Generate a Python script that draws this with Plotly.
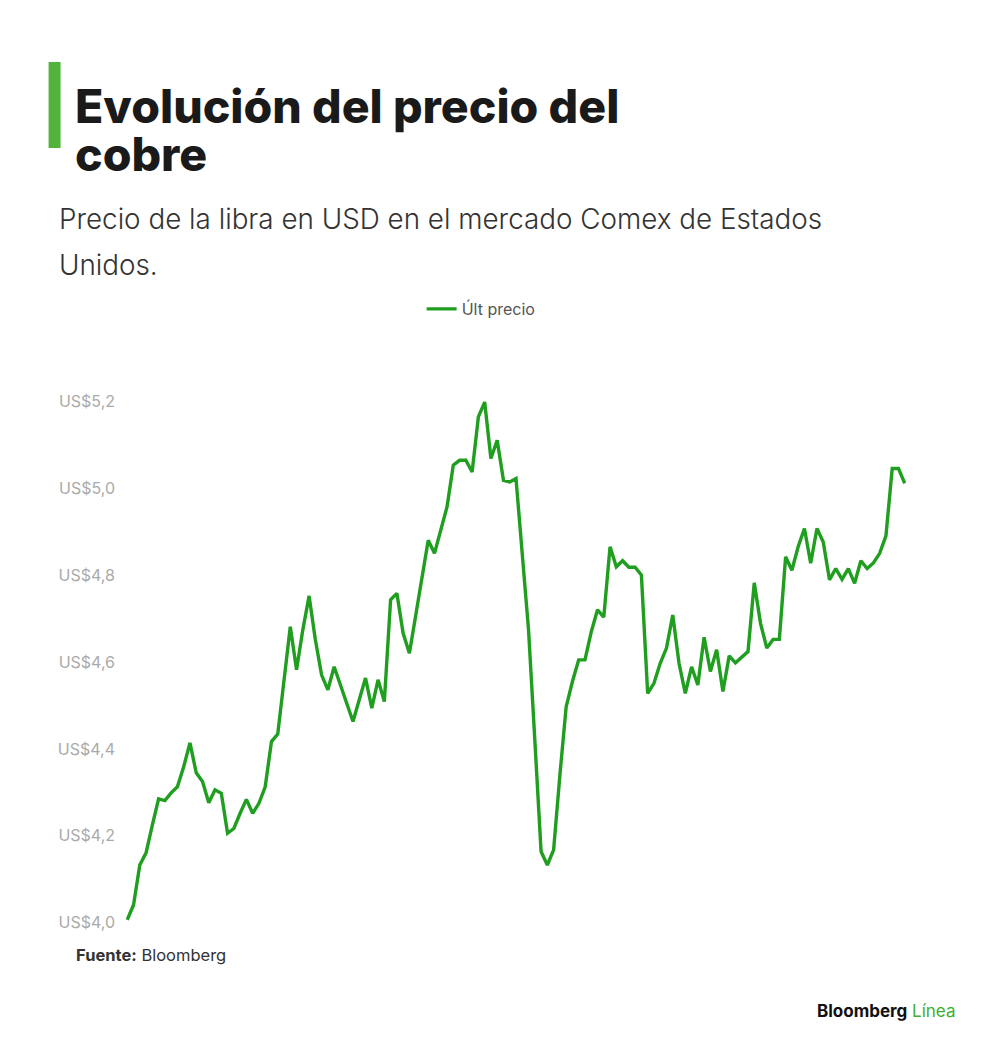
import plotly.graph_objects as go

# precio del cobre (USD por libra, Comex), una sesión por punto
precio = [
    4.007, 4.041, 4.133, 4.161, 4.225, 4.285, 4.281, 4.299, 4.313, 4.359,
    4.414, 4.345, 4.325, 4.276, 4.306, 4.298, 4.206, 4.217, 4.252, 4.284,
    4.252, 4.275, 4.313, 4.417, 4.434, 4.560, 4.681, 4.582, 4.674, 4.752,
    4.651, 4.570, 4.536, 4.589, 4.547, 4.501, 4.463, 4.513, 4.563, 4.494,
    4.559, 4.509, 4.743, 4.758, 4.666, 4.620, 4.710, 4.797, 4.880, 4.850,
    4.905, 4.957, 5.053, 5.064, 5.064, 5.037, 5.164, 5.198, 5.068, 5.110,
    5.018, 5.014, 5.022, 4.857, 4.674, 4.421, 4.164, 4.133, 4.168, 4.340,
    4.497, 4.555, 4.605, 4.605, 4.669, 4.720, 4.703, 4.865, 4.819, 4.833,
    4.818, 4.818, 4.800, 4.528, 4.551, 4.597, 4.632, 4.708, 4.597, 4.528,
    4.589, 4.547, 4.657, 4.578, 4.628, 4.532, 4.614, 4.598, 4.612, 4.624,
    4.782, 4.689, 4.632, 4.652, 4.652, 4.842, 4.811, 4.865, 4.907, 4.827,
    4.907, 4.876, 4.789, 4.815, 4.790, 4.815, 4.781, 4.833, 4.815, 4.828,
    4.850, 4.890, 5.045, 5.045, 5.011,
]
sesion = list(range(len(precio)))

tick_vals = [4.0, 4.2, 4.4, 4.6, 4.8, 5.0, 5.2]
tick_text = ["US$4,0", "US$4,2", "US$4,4", "US$4,6", "US$4,8", "US$5,0", "US$5,2"]

# the page body has an 8px margin, so the figure is drawn 8px in
OFF = 8
W, H = 1000 - OFF, 1054 - OFF
L, T = 125.5 - OFF, 399 - OFF
PW, PH = 780.8, 526
R, B = W - L - PW, H - T - PH


def px(x):
    return (x - OFF - L) / PW


def py(y):
    return (T + PH - (y - OFF)) / PH


FONT = "Inter"
GREEN = "#1f9e1f"

fig = go.Figure()
fig.add_trace(go.Scatter(
    x=sesion, y=precio, mode="lines", name="Últ precio",
    line=dict(color=GREEN, width=3.4),
))

fig.update_layout(
    width=W, height=H,
    margin=dict(l=L, r=R, t=T, b=B),
    paper_bgcolor="white", plot_bgcolor="white",
    font=dict(family=FONT, color="#333"),
    showlegend=True,
    legend=dict(
        orientation="h", x=px(481), y=py(309), xanchor="center", yanchor="middle",
        font=dict(family=FONT, size=16, color="#555"),
    ),
    xaxis=dict(
        range=[-0.2, len(precio) - 0.8], showgrid=False, zeroline=False,
        showline=False, showticklabels=False, ticks="",
    ),
    yaxis=dict(
        range=[3.995, 5.205], showgrid=False, zeroline=False, showline=False,
        tickvals=tick_vals, ticktext=tick_text,
        tickfont=dict(family=FONT, size=16, color="#aaa"),
        ticks="", ticklabelstandoff=10,
    ),
)

# barra verde del título
fig.add_shape(
    type="rect", xref="paper", yref="paper",
    x0=px(48), x1=px(60), y0=py(148), y1=py(62),
    fillcolor="#52b33a", line=dict(width=0),
)


def texto(t, x, y, size, weight=400, color="#333", anchor="left"):
    fig.add_annotation(
        text=t, xref="paper", yref="paper", x=px(x), y=py(y),
        xanchor=anchor, yanchor="middle", showarrow=False,
        font=dict(family=FONT, size=size, color=color, weight=weight),
    )


texto("Evolución del precio del", 72, 106, 46.5, 800, "#1a1a1a")
texto("cobre", 72, 154, 46.5, 800, "#1a1a1a")
texto("Precio de la libra en USD en el mercado Comex de Estados", 56, 219, 27.8, 300)
texto("Unidos.", 56, 265, 27.8, 300)
texto("<b>Fuente:</b> Bloomberg", 73, 955, 16.5)
texto("<b>Bloomberg</b> <span style='color:#3fae2a'>Línea</span>", 958, 1011, 17,
      color="#111", anchor="right")

fig.write_html("out.html")
